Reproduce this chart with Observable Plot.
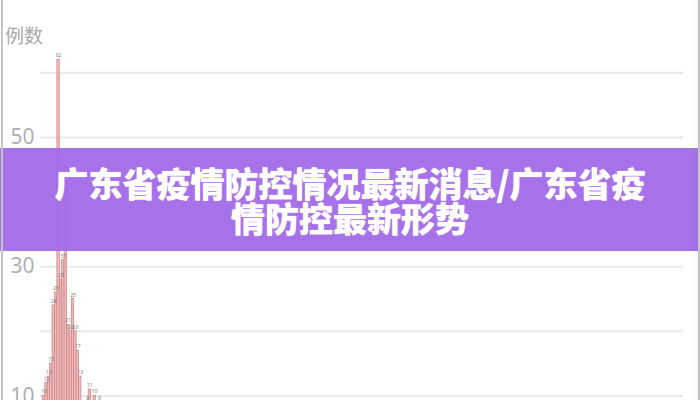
<!DOCTYPE html>
<html><head><meta charset="utf-8">
<script src="https://cdn.jsdelivr.net/npm/d3@7"></script>
<script src="https://cdn.jsdelivr.net/npm/@observablehq/plot@0.6"></script>
<style>
html,body{margin:0;padding:0;background:#fff;overflow:hidden;width:700px;height:400px}
#wrap{position:relative;width:700px;height:400px;overflow:hidden;background:#fff}
#chart{position:absolute;left:0;top:0}
#ylab{position:absolute;left:5px;top:22px;font:19px "Noto Sans CJK SC";color:#a8a8a8;line-height:26px}
#banner{position:absolute;left:0;top:148px;width:700px;height:103px;background:rgba(162,106,232,0.95);color:#fff;font:900 34px/35px "Noto Sans CJK SC";text-align:center;display:flex;flex-direction:column;justify-content:center;text-shadow:0 0 1px #fff}
#lb{position:absolute;left:1px;top:0;width:2px;height:400px;background:#c4c4c4}
#rb{position:absolute;right:0;top:0;width:2px;height:400px;background:#c4c4c4}
#rs{position:absolute;right:2px;top:0;width:8px;height:400px;background:linear-gradient(to right,rgba(0,0,0,0),rgba(0,0,0,0.03))}
</style></head>
<body><div id="wrap"><div id="chart"></div><div id="ylab">例数</div>
<div id="banner"><div>广东省疫情防控情况最新消息/广东省疫</div><div>情防控最新形势</div></div>
<div id="lb"></div><div id="rs"></div><div id="rb"></div></div>
<script>
const yTitle = "例数";
const totalDays = 267;
const dayIndex = [0,1,2,3,4,5,6,7,8,9,10,11,12,13,14,15,16,17,18,19,20,21,22,23,24,25,26,27,28,29,30,31];
const cases    = [7,10,12,13,15,24,26,62,28,31,45,21,20,25,20,17,13,8,7,9,11,8,10,6,9,5,4,6,3,5,2,3];
const gridTicks = [10,20,30,40,50,60];
const labelTicks = [10,30,50];

const data = dayIndex.map((d,i)=>({d, v:cases[i]}));

const plot = Plot.plot({
  width:700, height:480,
  marginLeft:40, marginRight:17, marginTop:40, marginBottom:20,
  style:{fontFamily:"'Noto Sans', sans-serif", background:"transparent"},
  x:{domain:[0,totalDays], axis:null},
  y:{domain:[0,65], axis:null},
  marks:[
    Plot.gridY(gridTicks,{stroke:"#e9e9e9", strokeWidth:2, strokeOpacity:1}),
    Plot.axisY(labelTicks,{tickSize:0, tickPadding:6, fontSize:21, color:"#b0b0b0", label:null}),
    Plot.rectY(data,{x1:"d", x2:d=>d.d+1, y:"v", fill:"#efbcbc", stroke:"#cf7f7f", strokeWidth:0.7}),
    Plot.text(data,{x:d=>d.d+0.5, y:"v", text:"v", dy:-4, fontSize:5, fill:"#777"})
  ]
});
document.getElementById("chart").appendChild(plot);
</script>
</body></html>
